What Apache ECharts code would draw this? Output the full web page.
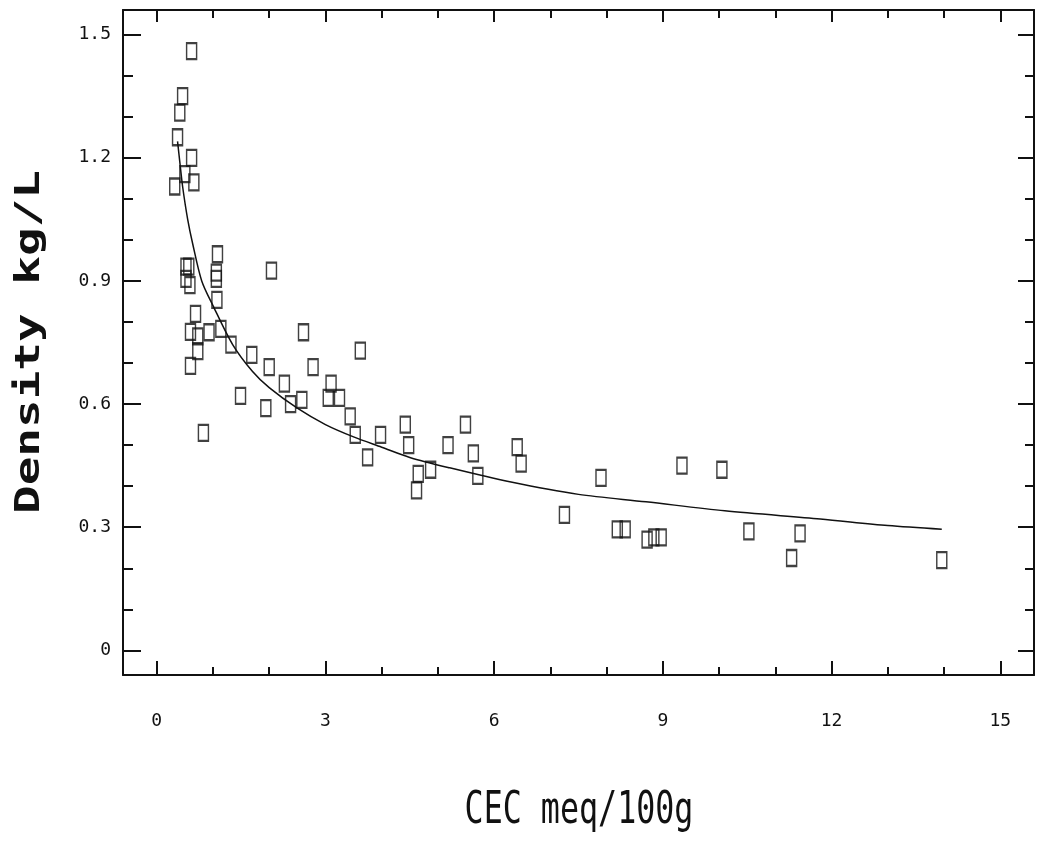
<!DOCTYPE html>
<html>
<head>
<meta charset="utf-8">
<script src="https://cdn.jsdelivr.net/npm/echarts@6/dist/echarts.min.js"></script>
<style>
  html, body { margin: 0; padding: 0; background: #fff; }
  #chartsDiv { width: 1037px; height: 845px; }
</style>
</head>
<body>
<div id="chartsDiv"></div>
<script>
// measured samples: CEC (meq/100g) and density (kg/L)
const cec = [0.32, 0.37, 0.41, 0.46, 0.62, 0.62, 0.50, 0.66, 0.52, 0.57, 0.52, 0.59,
  1.08, 1.06, 1.06, 1.07, 2.04, 0.69, 0.60, 0.73, 0.93, 1.14, 1.32, 0.73, 0.60, 0.83,
  1.69, 1.49, 2.0, 1.94, 2.61, 2.78, 2.27, 2.38, 2.58, 3.1, 3.05, 3.25, 3.62, 3.44,
  3.53, 3.98, 3.75, 4.42, 4.48, 4.65, 4.62, 4.87, 5.18, 5.49, 5.63, 5.71, 6.41, 6.48,
  7.25, 7.9, 8.19, 8.33, 8.72, 8.84, 8.97, 9.34, 10.05, 10.53, 11.29, 11.44, 13.96]
const density = [1.13, 1.25, 1.31, 1.35, 1.46, 1.20, 1.16, 1.14, 0.935, 0.935, 0.905, 0.89,
  0.965, 0.92, 0.905, 0.854, 0.925, 0.82, 0.776, 0.765, 0.775, 0.783, 0.745, 0.729, 0.693, 0.53,
  0.72, 0.62, 0.69, 0.59, 0.775, 0.69, 0.65, 0.60, 0.61, 0.65, 0.615, 0.615, 0.73, 0.57,
  0.525, 0.525, 0.47, 0.55, 0.50, 0.43, 0.39, 0.44, 0.50, 0.55, 0.48, 0.425, 0.495, 0.455,
  0.33, 0.42, 0.295, 0.295, 0.27, 0.275, 0.275, 0.45, 0.44, 0.29, 0.225, 0.285, 0.22]

// fitted curve
const fitCec = [0.37, 0.41, 0.46, 0.55, 0.64, 0.8, 1.0, 1.35, 1.7, 2.0, 2.5, 3.0, 3.5, 4.0,
  4.5, 5.2, 6.3, 7.5, 8.7, 10.1, 11.8, 13.0, 13.96]
const fitDensity = [1.24, 1.19, 1.13, 1.05, 0.99, 0.90, 0.84, 0.745, 0.68, 0.64, 0.59, 0.55, 0.52, 0.495,
  0.47, 0.445, 0.41, 0.38, 0.362, 0.34, 0.32, 0.304, 0.295]

// ticks
const xMajor = [0, 3, 6, 9, 12, 15]
const xMinor = [0, 1, 2, 3, 4, 5, 6, 7, 8, 9, 10, 11, 12, 13, 14, 15]
const yMajor = [0, 0.3, 0.6, 0.9, 1.2, 1.5]
const yMinor = [0, 0.1, 0.2, 0.3, 0.4, 0.5, 0.6, 0.7, 0.8, 0.9, 1.0, 1.1, 1.2, 1.3, 1.4, 1.5]

const ink = "#111"
const monoFont = "'DejaVu Sans Mono', 'Liberation Mono', monospace"

function xAx(position, ticks, len, withLine, withLabel) {
  return {
    type: "value", position: position, min: -0.6, max: 15.6,
    axisLine: { show: withLine, onZero: false, lineStyle: { color: ink, width: 2 } },
    axisTick: { show: true, inside: true, length: len, customValues: ticks, lineStyle: { color: ink, width: 2 } },
    axisLabel: withLabel ? {
      show: true, customValues: xMajor, margin: 37, color: ink,
      fontFamily: monoFont, fontSize: 18
    } : { show: false },
    splitLine: { show: false },
  }
}

function yAx(position, ticks, len, withLine, withLabel) {
  return {
    type: "value", position: position, min: -0.06, max: 1.56,
    axisLine: { show: withLine, onZero: false, lineStyle: { color: ink, width: 2 } },
    axisTick: { show: true, inside: true, length: len, customValues: ticks, lineStyle: { color: ink, width: 2 } },
    axisLabel: withLabel ? {
      show: true, customValues: yMajor, margin: 12, color: ink,
      fontFamily: monoFont, fontSize: 18,
      formatter: function (v) { return v === 0 ? "0" : v.toFixed(1) }
    } : { show: false },
    splitLine: { show: false },
  }
}

const scatterData = cec.map(function (x, i) { return [x, density[i]] })
const fitData = fitCec.map(function (x, i) { return [x, fitDensity[i]] })

let option = {
  backgroundColor: "#fff",
  animation: false,
  grid: { left: 123, right: 3, top: 10, bottom: 170 },
  xAxis: [
    xAx("bottom", xMajor, 14, true, true),
    xAx("bottom", xMinor, 8, false, false),
    xAx("top", xMajor, 12, true, false),
    xAx("top", xMinor, 8, false, false),
  ],
  yAxis: [
    yAx("left", yMajor, 18, true, true),
    yAx("left", yMinor, 10, false, false),
    yAx("right", yMajor, 16, true, false),
    yAx("right", yMinor, 9, false, false),
  ],
  graphic: [
    {
      type: "text", x: 30, y: 342, rotation: Math.PI / 2, scaleX: 1.4,
      style: {
        text: "Density kg/L", fill: ink, align: "center", verticalAlign: "middle",
        font: "bold 34px 'DejaVu Sans Mono', monospace"
      }
    },
    {
      type: "text", x: 579, y: 812, scaleX: 0.72,
      style: {
        text: "CEC meq/100g", fill: ink, align: "center", verticalAlign: "middle",
        font: "44px 'DejaVu Sans Mono', monospace"
      }
    },
  ],
  series: [
    {
      name: "fit",
      type: "line",
      xAxisIndex: 0, yAxisIndex: 0,
      smooth: 0.3,
      showSymbol: false,
      lineStyle: { color: ink, width: 1.5 },
      data: fitData,
    },
    {
      name: "samples",
      type: "scatter",
      xAxisIndex: 0, yAxisIndex: 0,
      symbol: "rect",
      symbolSize: [10, 16],
      itemStyle: { color: "rgba(0,0,0,0)", borderColor: ink, borderWidth: 1.8 },
      data: scatterData,
    },
  ],
}

let chart = echarts.init(document.getElementById("chartsDiv"))
chart.setOption(option)
</script>
</body>
</html>
